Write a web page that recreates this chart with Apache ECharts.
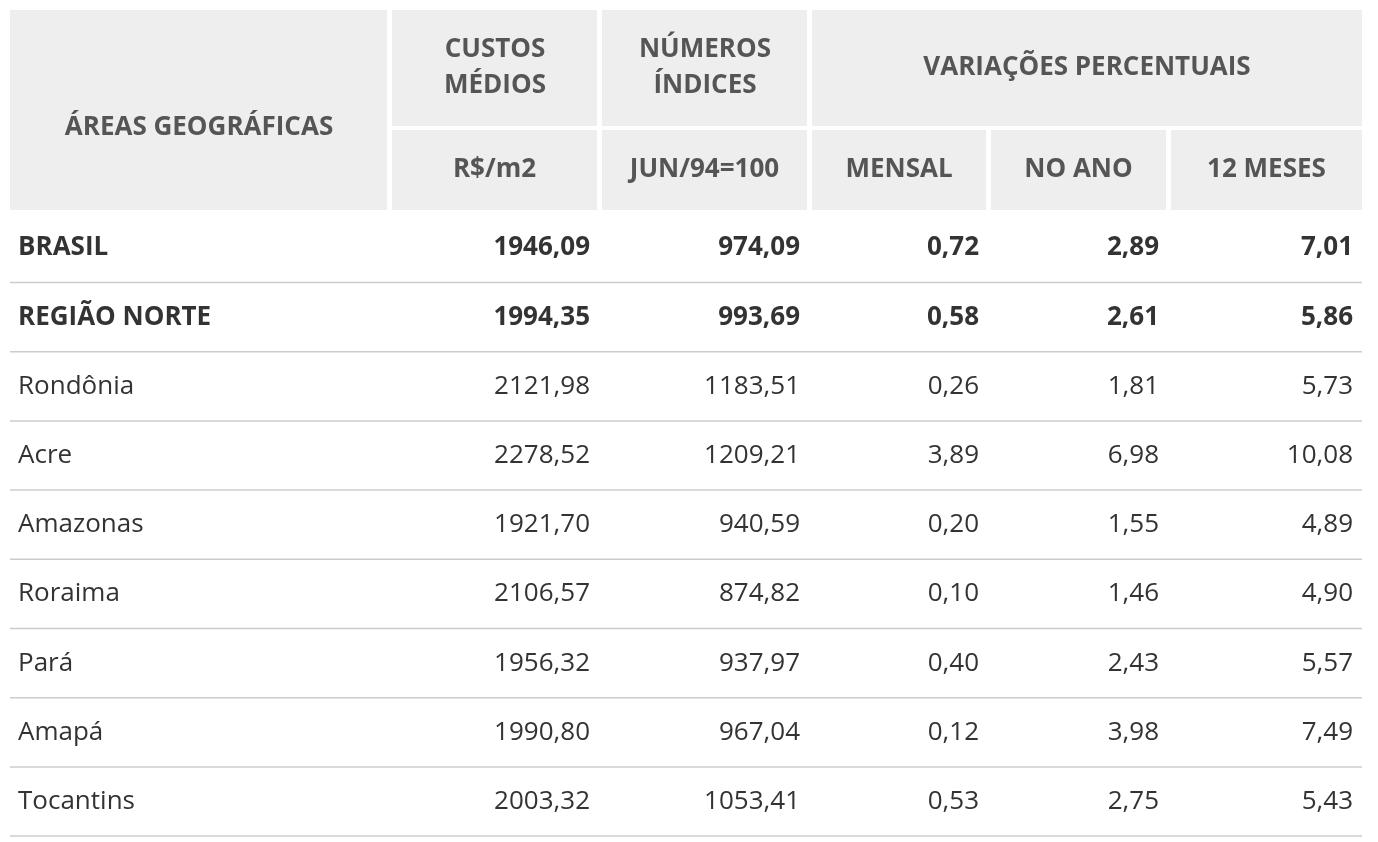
<!DOCTYPE html>
<html><head><meta charset="utf-8">
<script src="https://cdn.jsdelivr.net/npm/echarts@6/dist/echarts.min.js"></script>
<style>html,body{margin:0;padding:0;background:#fff}#c{width:1378px;height:842px}</style>
</head><body><div id="c"></div>
<script>
const areas = ["BRASIL","REGIÃO NORTE","Rondônia","Acre","Amazonas","Roraima","Pará","Amapá","Tocantins"];
const boldRows = [true,true,false,false,false,false,false,false,false];
const custos = ["1946,09","1994,35","2121,98","2278,52","1921,70","2106,57","1956,32","1990,80","2003,32"];
const indices = ["974,09","993,69","1183,51","1209,21","940,59","874,82","937,97","967,04","1053,41"];
const mensal = ["0,72","0,58","0,26","3,89","0,20","0,10","0,40","0,12","0,53"];
const noAno = ["2,89","2,61","1,81","6,98","1,55","1,46","2,43","3,98","2,75"];
const meses12 = ["7,01","5,86","5,73","10,08","4,89","4,90","5,57","7,49","5,43"];
const subHeaders = ["R$/m2","JUN/94=100","MENSAL","NO ANO","12 MESES"];

const cols = [[10,387],[392,597],[602,807],[812,986],[991,1166],[1171,1362]];
const font = '"Open Sans", "Noto Sans", sans-serif';
const hdrBg = '#eeeeee', hdrColor = '#555555', bodyColor = '#333333';
const g = [];
function rect(x,y,w,h){g.push({type:'rect',shape:{x,y,width:w,height:h},style:{fill:hdrBg},silent:true});}
function txt(x,y,t,align,bold,color){g.push({type:'text',x,y,style:{text:t,fill:color,font:(bold?'bold ':'')+'26px '+font,textAlign:align,textVerticalAlign:'middle',lineHeight:36},silent:true});}
// header
rect(10,10,377,200);
rect(392,10,205,116); rect(602,10,205,116); rect(812,10,550,116);
for(let i=1;i<6;i++) rect(cols[i][0],130,cols[i][1]-cols[i][0],80);
txt(199,128,"ÁREAS GEOGRÁFICAS",'center',true,hdrColor);
txt(495,68,"CUSTOS\nMÉDIOS",'center',true,hdrColor);
txt(705,68,"NÚMEROS\nÍNDICES",'center',true,hdrColor);
txt(1087,68,"VARIAÇÕES PERCENTUAIS",'center',true,hdrColor);
subHeaders.forEach((s,i)=>{const c=cols[i+1];txt((c[0]+c[1])/2,170,s,'center',true,hdrColor);});
// body
const rightX=[590,800,979,1159,1353];
const data=[custos,indices,mensal,noAno,meses12];
areas.forEach((a,r)=>{
  const y=248+r*69.2;
  txt(18,y,a,'left',boldRows[r],bodyColor);
  data.forEach((arr,j)=>txt(rightX[j],y,arr[r],'right',boldRows[r],bodyColor));
  const ly=282.5+r*69.2;
  g.push({type:'line',shape:{x1:10,y1:ly,x2:1362,y2:ly},style:{stroke:'#cccccc',lineWidth:1.5},silent:true});
});
const chart=echarts.init(document.getElementById('c'));
chart.setOption({animation:false,graphic:g});
</script></body></html>
